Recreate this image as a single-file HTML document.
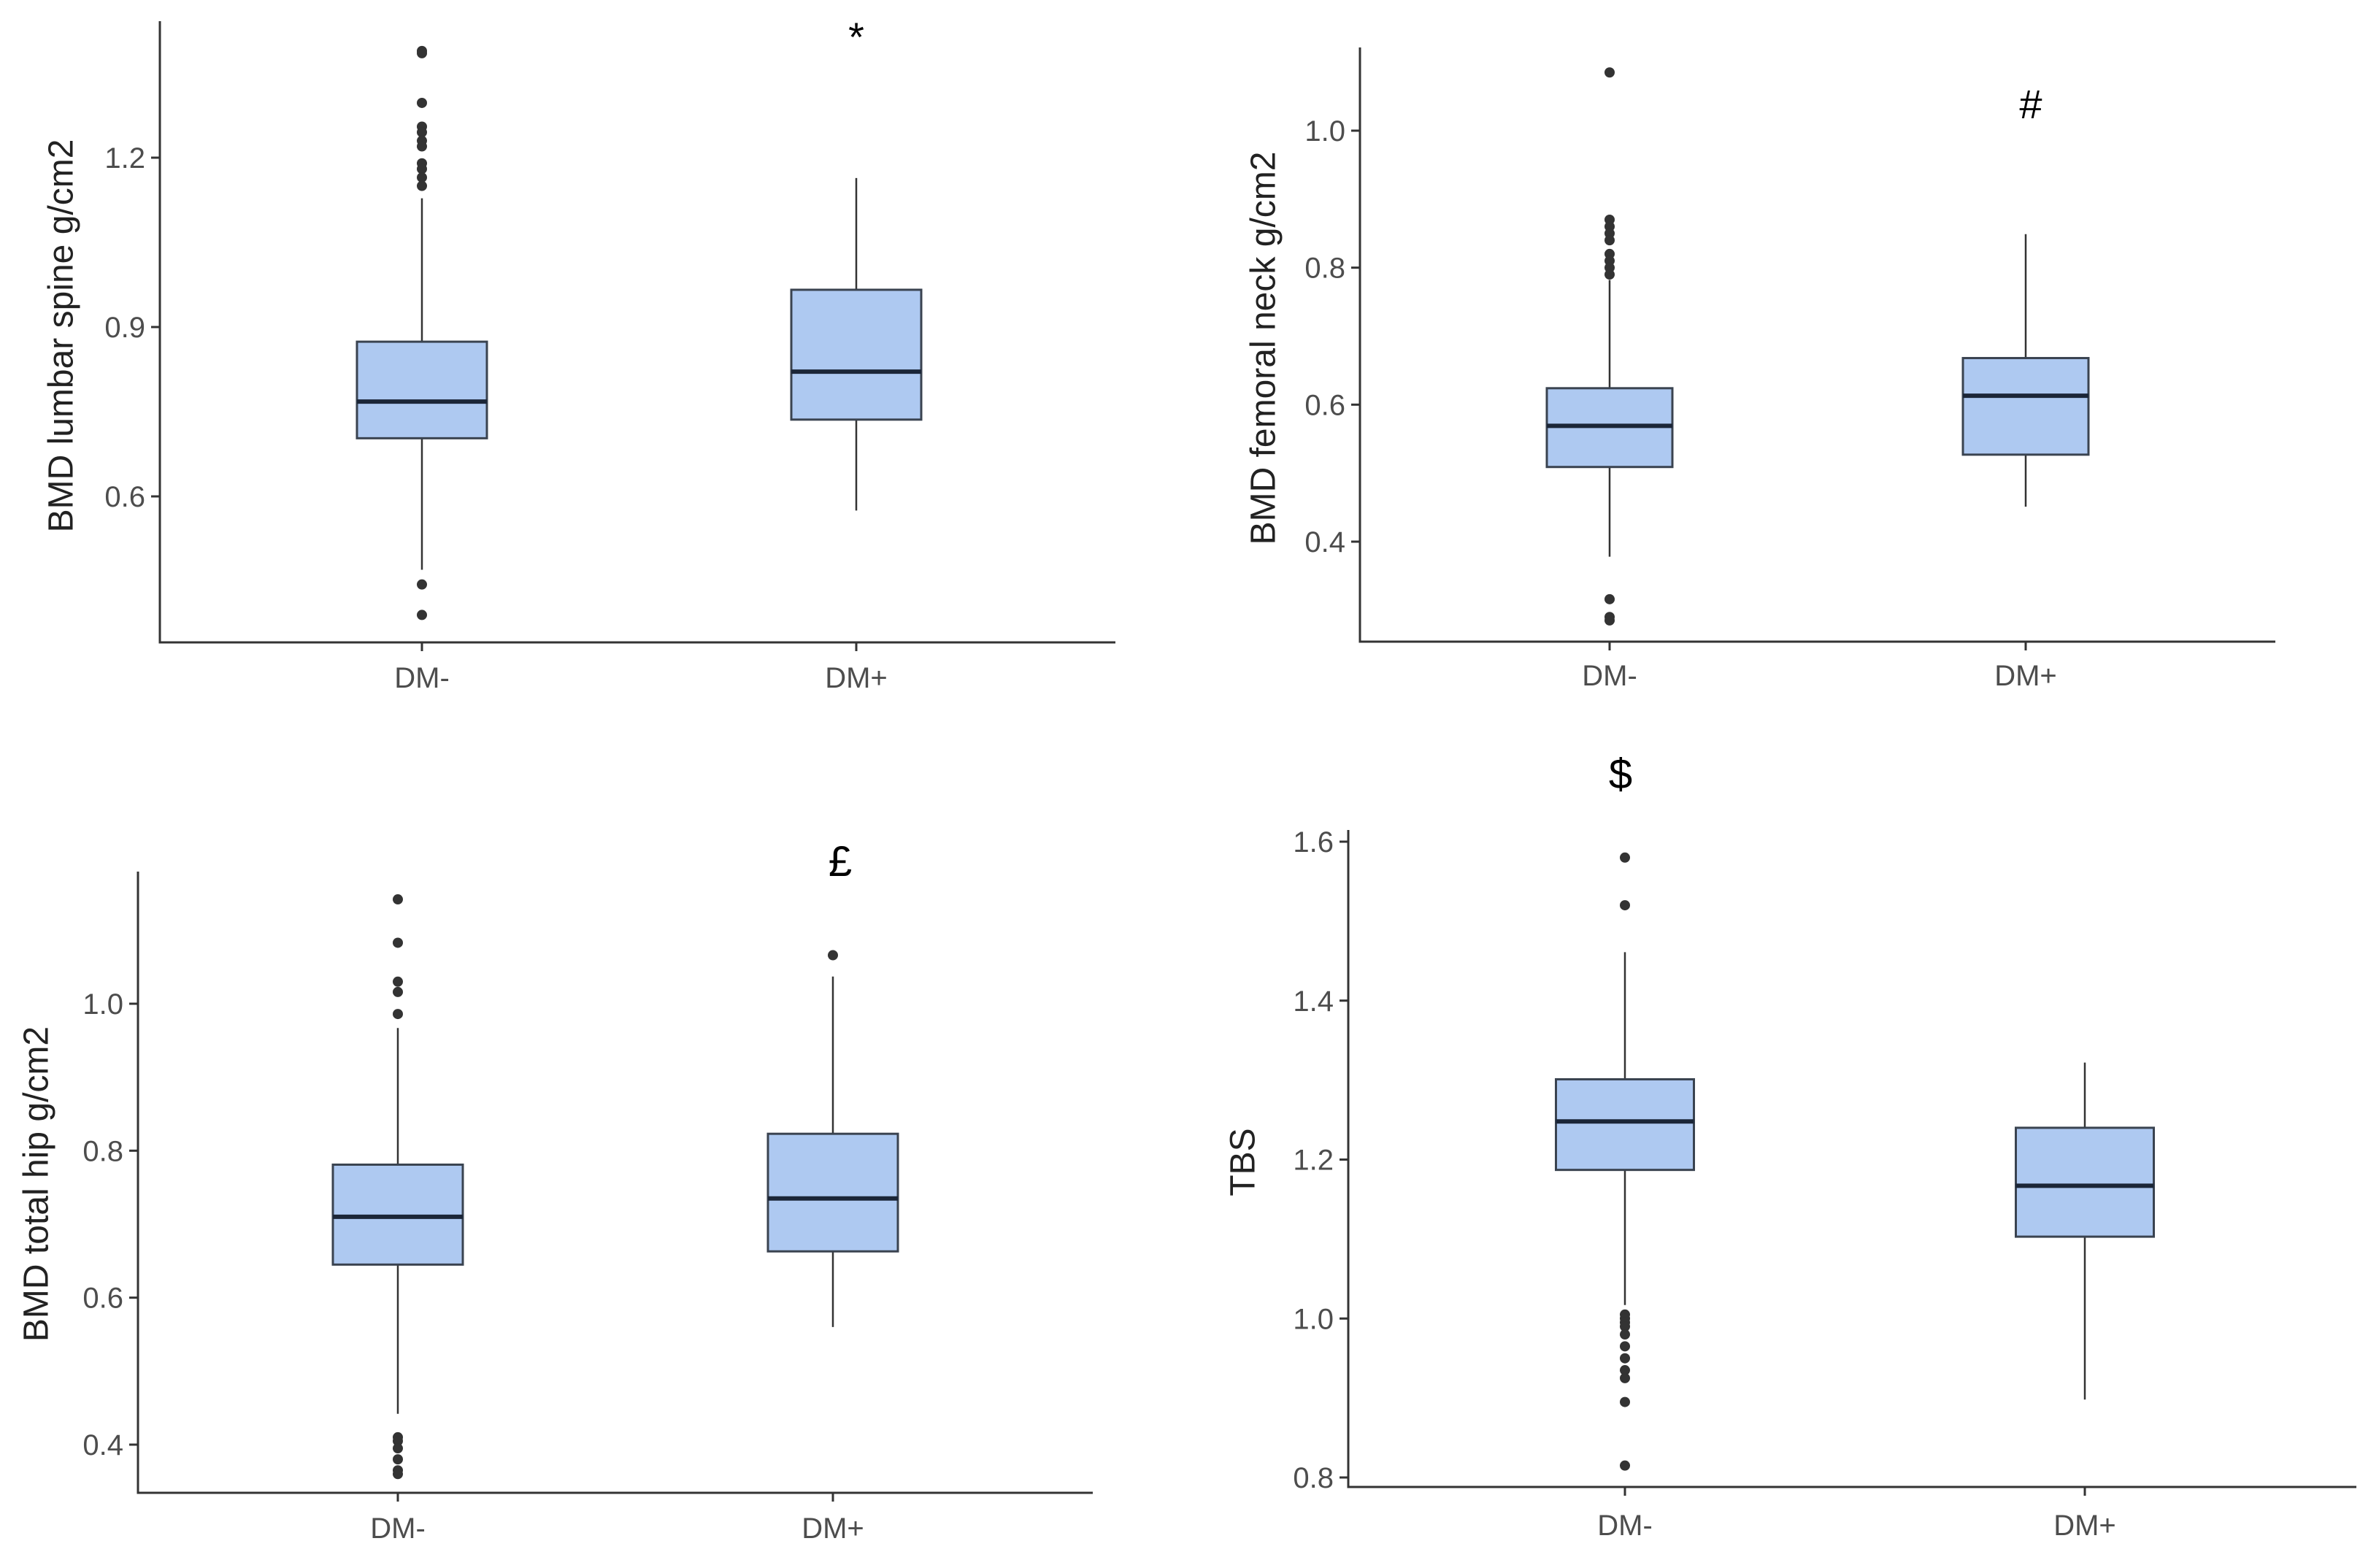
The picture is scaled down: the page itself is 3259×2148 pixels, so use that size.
<!DOCTYPE html>
<html><head><meta charset="utf-8">
<style>
html,body{margin:0;padding:0;background:#fff;}
svg{display:block;}
text{font-family:"Liberation Sans",Arial,sans-serif;}
</style></head>
<body>
<svg id="fig" width="3259" height="2148" viewBox="0 0 3259 2148"></svg>
<script>
const categories = ["DM-","DM+"];
// Panel A: lumbar spine
const lsStats = [[0.47,0.703,0.768,0.874,1.128],[0.575,0.736,0.821,0.966,1.164]];
const lsOutliers = [[1.389,1.385,1.297,1.255,1.245,1.23,1.22,1.19,1.18,1.165,1.15,0.444,0.39],[]];
const lsTicks = [0.6,0.9,1.2];
// Panel B: femoral neck
const fnStats = [[0.378,0.509,0.569,0.624,0.782],[0.451,0.527,0.613,0.668,0.849]];
const fnOutliers = [[1.085,0.87,0.86,0.85,0.84,0.82,0.81,0.80,0.79,0.316,0.29,0.285],[]];
const fnTicks = [0.4,0.6,0.8,1.0];
// Panel C: total hip
const thStats = [[0.442,0.645,0.710,0.781,0.967],[0.56,0.663,0.735,0.823,1.037]];
const thOutliers = [[1.142,1.083,1.030,1.016,0.986,0.41,0.405,0.395,0.38,0.365,0.36],[1.066]];
const thTicks = [0.4,0.6,0.8,1.0];
// Panel D: TBS
const tbsStats = [[1.017,1.187,1.248,1.301,1.461],[0.898,1.103,1.167,1.240,1.322]];
const tbsOutliers = [[1.58,1.52,1.005,1.0,0.995,0.99,0.98,0.965,0.95,0.935,0.925,0.895,0.815],[]];
const tbsTicks = [0.8,1.0,1.2,1.4,1.6];

const NS="http://www.w3.org/2000/svg";
const svg=document.getElementById('fig');
function mk(tag,attrs,parent){const e=document.createElementNS(NS,tag);for(const k in attrs)e.setAttribute(k,attrs[k]);(parent||svg).appendChild(e);return e;}

const panels=[
 {id:"lumbar-spine",stats:lsStats,out:lsOutliers,ticks:lsTicks,title:"BMD lumbar spine g/cm2",
  ax:219,top:29,bottom:880,right:1528,t0:0.9,y0:448,t1:1.2,y1:216,cx:[578,1173],bw:178,tx:87,ty:460,
  ann:"*",annX:1173,annY:70,annSize:56,labY:942},
 {id:"femoral-neck",stats:fnStats,out:fnOutliers,ticks:fnTicks,title:"BMD femoral neck g/cm2",
  ax:1863,top:65,bottom:879,right:3117,t0:0.4,y0:742,t1:1.0,y1:179,cx:[2205,2775],bw:172,tx:1734,ty:477,
  ann:"#",annX:2782,annY:162,annSize:56,labY:939},
 {id:"total-hip",stats:thStats,out:thOutliers,ticks:thTicks,title:"BMD total hip g/cm2",
  ax:189,top:1194,bottom:2045,right:1497,t0:0.4,y0:1979,t1:1.0,y1:1375,cx:[545,1141],bw:178,tx:53,ty:1622,
  ann:"£",annX:1151,annY:1200,annSize:58,labY:2107},
 {id:"tbs",stats:tbsStats,out:tbsOutliers,ticks:tbsTicks,title:"TBS",
  ax:1847,top:1137,bottom:2037,right:3228,t0:0.8,y0:2024,t1:1.6,y1:1153,cx:[2226,2856],bw:189,tx:1706,ty:1592,
  ann:"$",annX:2220,annY:1080,annSize:58,labY:2103}
];

panels.forEach(p=>{
  const g=mk('g',{});
  
  
  const y=v=>p.y0+(v-p.t0)*(p.y1-p.y0)/(p.t1-p.t0);
  const ya=mk('line',{x1:p.ax,y1:p.top,x2:p.ax,y2:p.bottom+1.5,stroke:'#333',"stroke-width":3},g);
  
  
  const xa=mk('line',{x1:p.ax-1.5,y1:p.bottom,x2:p.right,y2:p.bottom,stroke:'#333',"stroke-width":3},g);
  
  
  p.ticks.forEach(t=>{
    const ty=y(t);
    mk('line',{x1:p.ax-12,y1:ty,x2:p.ax,y2:ty,stroke:'#333',"stroke-width":3},g);
    const lab=mk('text',{x:p.ax-20,y:ty+14,"text-anchor":"end","font-size":40,fill:'#4d4d4d'},g);
    lab.textContent=t.toFixed(1);
    
    
  });
  categories.forEach((c,i)=>{
    const x=p.cx[i];
    mk('line',{x1:x,y1:p.bottom,x2:x,y2:p.bottom+12,stroke:'#333',"stroke-width":3},g);
    const lab=mk('text',{x:x,y:p.labY,"text-anchor":"middle","font-size":40,fill:'#4d4d4d'},g);
    lab.textContent=c;
    
    
    const s=p.stats[i];
    const w=mk('line',{x1:x,y1:y(s[0]),x2:x,y2:y(s[4]),stroke:'#333',"stroke-width":2.5},g);
    
    
    const b=mk('rect',{x:x-p.bw/2,y:y(s[3]),width:p.bw,height:y(s[1])-y(s[3]),fill:'#aec9f1',stroke:'#3a4350',"stroke-width":3},g);
    
    
    const m=mk('line',{x1:x-p.bw/2,y1:y(s[2]),x2:x+p.bw/2,y2:y(s[2]),stroke:'#1b2638',"stroke-width":6},g);
    
    
    p.out[i].forEach(v=>{
      const d=mk('circle',{cx:x,cy:y(v),r:7,fill:'#333'},g);
      
      
    });
  });
  const tt=mk('text',{x:p.tx,y:p.ty,"text-anchor":"middle","font-size":48,fill:'#222',transform:`rotate(-90 ${p.tx} ${p.ty})`,"dominant-baseline":"middle"},g);
  tt.textContent=p.title;
  
  
  const an=mk('text',{x:p.annX,y:p.annY,"text-anchor":"middle","font-size":p.annSize,fill:'#000'},g);
  an.textContent=p.ann;
  
  
});
</script>
</body></html>
